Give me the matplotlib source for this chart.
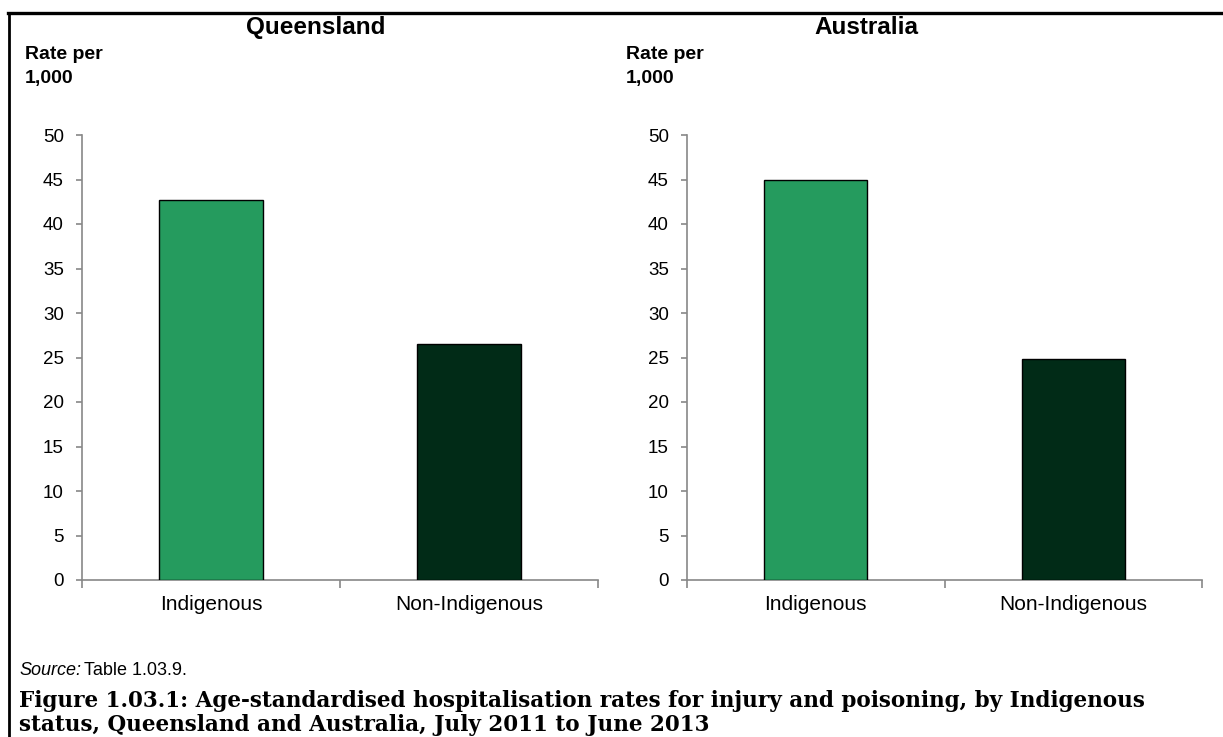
import matplotlib
matplotlib.use("Agg")
import matplotlib.pyplot as plt
from matplotlib.lines import Line2D

plt.rcParams['font.family'] = ['Liberation Sans', 'DejaVu Sans']

# data
categories = ['Indigenous', 'Non-Indigenous']
qld_rates = [42.7, 26.5]
aus_rates = [45.0, 24.8]
panel_titles = ['Queensland', 'Australia']
bar_colours = ['#259B5E', '#012B17']

fig = plt.figure(figsize=(12.23, 7.37), dpi=100)
W, H = 1223, 737

def fx(px):
    return px / W

def fy(py):
    return 1 - py / H

axes_px = [(82, 598), (687, 1202)]
title_x = [316, 866]
rate_x = [25, 626]

for i, rates in enumerate([qld_rates, aus_rates]):
    x0, x1 = axes_px[i]
    ax = fig.add_axes([fx(x0), fy(580), fx(x1 - x0), fy(135) - fy(580)])
    pos = [0.5, 1.5]
    ax.bar(pos, rates, width=0.4, color=bar_colours, edgecolor='black', linewidth=1.0, zorder=3)
    ax.set_xlim(0, 2)
    ax.set_ylim(0, 50)
    ax.set_yticks(range(0, 51, 5))
    ax.set_xticks(pos)
    ax.set_xticklabels(categories, fontsize=15)
    ax.set_xticks([0, 1, 2], minor=True)
    ax.tick_params(axis='x', which='major', length=0, pad=11)
    ax.tick_params(axis='x', which='minor', length=6, color='#888888', width=1.2)
    ax.tick_params(axis='y', length=4, color='#888888', width=1.2, labelsize=13.5, pad=9)
    for s in ['top', 'right']:
        ax.spines[s].set_visible(False)
    for s in ['left', 'bottom']:
        ax.spines[s].set_color('#888888')
        ax.spines[s].set_linewidth(1.2)

    fig.text(fx(title_x[i]), fy(34), panel_titles[i], ha='center', va='baseline',
             fontsize=17.5, fontweight='bold')
    fig.text(fx(rate_x[i]), fy(59), 'Rate per', ha='left', va='baseline',
             fontsize=14, fontweight='bold')
    fig.text(fx(rate_x[i]), fy(83), '1,000', ha='left', va='baseline',
             fontsize=14, fontweight='bold')

# frame lines
fig.add_artist(Line2D([fx(8), 1], [fy(13), fy(13)], color='black', lw=2.4,
                      transform=fig.transFigure))
fig.add_artist(Line2D([fx(9), fx(9)], [fy(13), 0], color='black', lw=2.0,
                      transform=fig.transFigure))

fig.text(fx(19), fy(675), 'Source:', ha='left', va='baseline', fontsize=13, style='italic')
fig.text(fx(84), fy(675), 'Table 1.03.9.', ha='left', va='baseline', fontsize=13)

cap_font = ['DejaVu Serif']
fig.text(fx(19), fy(707), 'Figure 1.03.1: Age-standardised hospitalisation rates for injury and poisoning, by Indigenous',
         ha='left', va='baseline', fontsize=15.5, fontweight='bold', family=cap_font)
fig.text(fx(19), fy(731), 'status, Queensland and Australia, July 2011 to June 2013',
         ha='left', va='baseline', fontsize=15.5, fontweight='bold', family=cap_font)

fig.savefig('out.png', dpi=100)
